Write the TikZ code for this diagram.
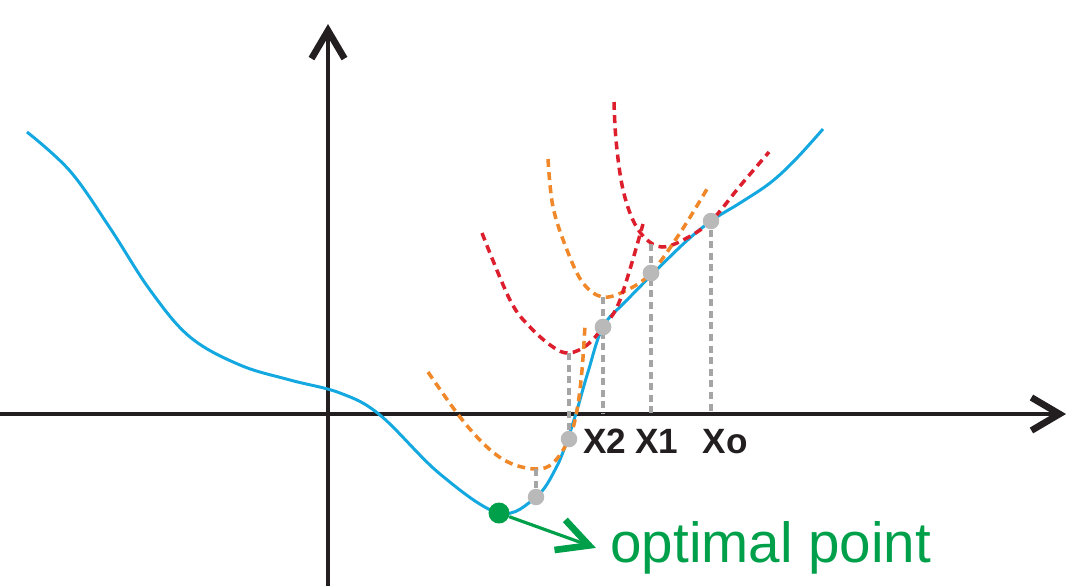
\documentclass[tikz,border=0pt]{standalone}
\usepackage{fontspec}
\setmainfont{Liberation Sans}
\usetikzlibrary{arrows.meta}
\definecolor{cblue}{RGB}{20,168,224}
\definecolor{cred}{RGB}{220,30,45}
\definecolor{corange}{RGB}{240,135,40}
\definecolor{cgdash}{RGB}{165,165,165}
\definecolor{cgdot}{RGB}{185,185,185}
\definecolor{cgreen}{RGB}{0,160,75}
\definecolor{caxis}{RGB}{35,31,32}
\tikzset{
  axisline/.style={draw=caxis, line width=2pt, -{Straight Barb[length=0.56cm,width=0.66cm,line width=3.8pt]}},
  fcurve/.style={draw=cblue, line width=1.7pt},
  redsur/.style={draw=cred, line width=2pt, dash pattern=on 4.5pt off 3pt},
  orsur/.style={draw=corange, line width=2pt, dash pattern=on 4.5pt off 3pt},
  gdash/.style={draw=cgdash, line width=2pt, dash pattern=on 4pt off 2.6pt},
  gdot/.style={circle, fill=cgdot, inner sep=0pt, minimum size=0.33cm},
  optdot/.style={circle, fill=cgreen, inner sep=0pt, minimum size=0.42cm},
  xlab/.style={font=\fontsize{20}{24}\selectfont\bfseries, text=caxis, inner sep=0pt, anchor=base},
  optlab/.style={font=\fontsize{32.2}{36}\selectfont, text=cgreen, inner sep=0pt, anchor=base west},
  optarrow/.style={draw=cgreen, line width=1.8pt, -{Straight Barb[length=0.62cm,width=0.64cm,line width=3.8pt]}, shorten >=0.3cm}
}
\begin{document}
\begin{tikzpicture}[x=0.02cm, y=-0.02cm]
\useasboundingbox (0,0) rectangle (1087,586);
% axes
\coordinate (xl) at (0,414);
\coordinate (xr) at (1066,414);
\coordinate (yb) at (328,586);
\coordinate (yt) at (328,24);
\draw[axisline] (xl) -- (xr);
\draw[axisline] (yb) -- (yt);
% objective function
\draw[fcurve] plot[smooth, tension=0.6] coordinates {(27,132) (70,171) (110,228) (150,290) (190,337) (240,365) (290,380) (340,393) (380,415) (440,474) (499,513) (536,497) (556,468) (568,438) (577,410) (588,372) (603,327) (627,300) (680,247) (711,221) (740,203) (770,183) (795,160) (823,129)};
% surrogate curves
\draw[redsur] plot[smooth, tension=0.6] coordinates {(614,102) (616,140) (622,185) (632,218) (645,238) (662,247) (685,239) (711,221) (740,186) (769,152)};
\draw[orsur] plot[smooth, tension=0.6] coordinates {(548,159) (553,207) (567,250) (583,283) (603,297) (627,290) (651,273) (680,233) (707,189)};
\draw[redsur] plot[smooth, tension=0.6] coordinates {(482,233) (510,300) (530,327) (553,347) (569,353) (587,345) (603,327) (620,300) (643,224)};
\draw[orsur] plot[smooth, tension=0.6] coordinates {(428,372) (460,417) (487,447) (510,463) (536,469) (553,463) (569,439) (577,410) (582,370) (585,325)};
% minima and axis feet
\coordinate (m1) at (651,244);
\coordinate (m2) at (603,297);
\coordinate (m3) at (569,353);
\coordinate (m4) at (536,469);
\coordinate (a0) at (711,414);
\coordinate (a1) at (651,414);
\coordinate (a2) at (603,414);
% points on the curve
\node[gdot] (p0) at (711,221) {};
\node[gdot] (p1) at (651,273) {};
\node[gdot] (p2) at (603,327) {};
\node[gdot] (p3) at (569,439) {};
\node[gdot] (p4) at (536,497) {};
\draw[gdash] (p0.south) -- (a0);
\draw[gdash] (m1) -- (a1);
\draw[gdash] (m2) -- (a2);
\draw[gdash] (m3) -- (p3.north);
\draw[gdash] (m4) -- (p4.north);
\node[gdot] at (p1) {};
\node[gdot] at (p2) {};
% labels
\node[xlab] (lx2) at (605,453) {X2};
\node[xlab] (lx1) at (657,453) {X1};
\node[xlab] (lx0) at (725,453) {Xo};
% optimal point
\node[optdot] (opt) at (499,513) {};
\node[optlab] (optl) at (610,562) {optimal point};
\draw[optarrow] (opt) -- ([yshift=0.18cm]optl.base west);
\end{tikzpicture}
\end{document}
